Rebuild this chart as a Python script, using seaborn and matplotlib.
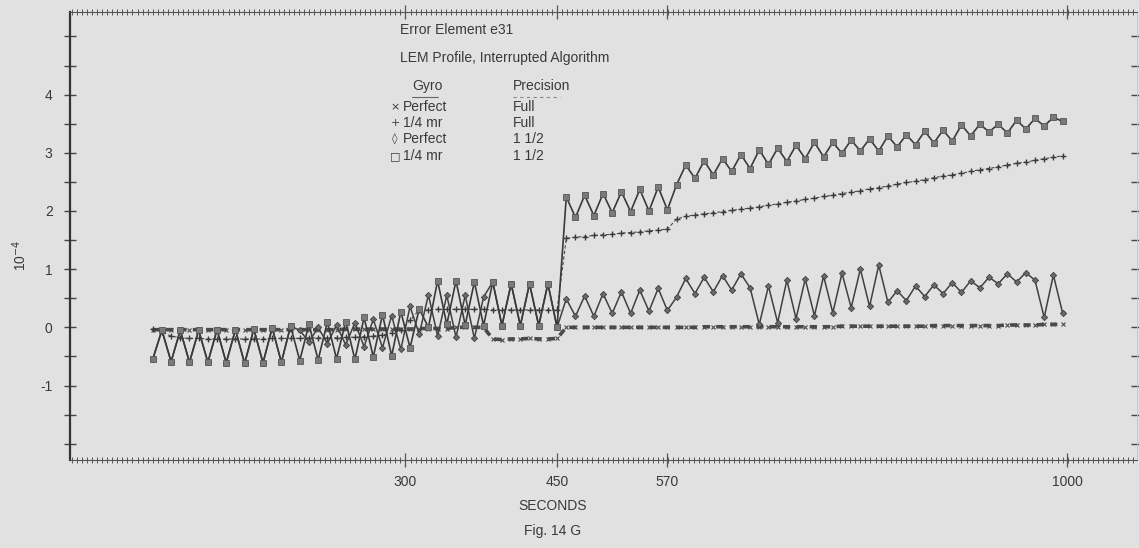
import matplotlib
matplotlib.use("Agg")
import matplotlib.pyplot as plt
from matplotlib import font_manager
import seaborn as sns
from matplotlib.ticker import FixedLocator, MultipleLocator

# ---------------- data ----------------
# x = sample number along the time axis (samples are equally spaced on the plot)
sample = list(range(100))

x_tick_pos = [27.5, 44, 56, 99.5]
x_tick_labels = ["300", "450", "570", "1000"]
y_tick_pos = [-1, 0, 1, 2, 3, 4]
y_tick_labels = ["-1", "0", "1", "2", "3", "4"]

# x  Perfect gyro, Full precision
perfect_full = [
    -0.04, -0.04, -0.04, -0.04, -0.04, -0.04, -0.04, -0.04, -0.04, -0.04,
    -0.04, -0.04, -0.04, -0.04, -0.04, -0.04, -0.04, -0.04, -0.04, -0.04,
    -0.04, -0.03, -0.03, -0.03, -0.03, -0.03, -0.03, -0.03, -0.03, -0.02,
    -0.02, -0.02, -0.02, 0.00, 0.00, 0.00, 0.00, -0.20, -0.21, -0.20,
    -0.20, -0.19, -0.20, -0.20, -0.19, 0.00, 0.00, 0.00, 0.00, 0.00,
    0.00, 0.00, 0.00, 0.00, 0.00, 0.00, 0.00, 0.00, 0.00, 0.00,
    0.01, 0.01, 0.01, 0.01, 0.01, 0.01, 0.01, 0.01, 0.01, 0.01,
    0.01, 0.01, 0.01, 0.01, 0.01, 0.02, 0.02, 0.02, 0.02, 0.02,
    0.02, 0.02, 0.02, 0.02, 0.02, 0.03, 0.03, 0.03, 0.03, 0.03,
    0.03, 0.03, 0.03, 0.04, 0.04, 0.04, 0.04, 0.05, 0.05, 0.05,
]

# +  1/4 mr gyro, Full precision
quarter_full = [
    -0.02, -0.08, -0.15, -0.18, -0.19, -0.19, -0.20, -0.20, -0.20, -0.20,
    -0.20, -0.20, -0.20, -0.19, -0.19, -0.19, -0.19, -0.18, -0.18, -0.18,
    -0.18, -0.17, -0.17, -0.16, -0.15, -0.13, -0.10, -0.05, 0.12, 0.30,
    0.30, 0.31, 0.31, 0.31, 0.31, 0.31, 0.31, 0.30, 0.30, 0.30,
    0.30, 0.30, 0.30, 0.30, 0.30, 1.53, 1.55, 1.56, 1.58, 1.59,
    1.60, 1.62, 1.63, 1.64, 1.66, 1.67, 1.69, 1.86, 1.91, 1.93,
    1.95, 1.97, 1.99, 2.01, 2.03, 2.05, 2.07, 2.10, 2.12, 2.15,
    2.17, 2.20, 2.22, 2.25, 2.27, 2.30, 2.32, 2.35, 2.38, 2.40,
    2.43, 2.46, 2.49, 2.51, 2.54, 2.57, 2.60, 2.62, 2.65, 2.68,
    2.71, 2.73, 2.76, 2.79, 2.82, 2.84, 2.87, 2.90, 2.92, 2.95,
]

# diamond  Perfect gyro, 1 1/2 precision
perfect_half = [
    -0.55, -0.05, -0.59, -0.05, -0.60, -0.05, -0.60, -0.04, -0.61, -0.04,
    -0.62, -0.03, -0.61, -0.01, -0.60, 0.02, -0.05, -0.25, 0.00, -0.28,
    0.04, -0.30, 0.08, -0.33, 0.14, -0.35, 0.20, -0.38, 0.36, -0.12,
    0.56, -0.15, 0.55, -0.17, 0.55, -0.19, 0.52, 0.78, 0.03, 0.75,
    0.03, 0.75, 0.03, 0.75, 0.00, 0.49, 0.19, 0.54, 0.19, 0.58,
    0.24, 0.61, 0.24, 0.64, 0.28, 0.67, 0.29, 0.52, 0.84, 0.58,
    0.86, 0.61, 0.89, 0.64, 0.92, 0.68, 0.05, 0.71, 0.08, 0.81,
    0.15, 0.83, 0.20, 0.88, 0.25, 0.93, 0.34, 1.00, 0.36, 1.07,
    0.43, 0.63, 0.46, 0.71, 0.53, 0.73, 0.58, 0.77, 0.60, 0.80,
    0.68, 0.86, 0.75, 0.92, 0.78, 0.94, 0.81, 0.17, 0.90, 0.25,
]

# square  1/4 mr gyro, 1 1/2 precision
quarter_half = [
    -0.55, -0.05, -0.59, -0.05, -0.60, -0.05, -0.60, -0.04, -0.61, -0.04,
    -0.62, -0.03, -0.61, -0.01, -0.60, 0.02, -0.57, 0.05, -0.56, 0.09,
    -0.54, 0.10, -0.55, 0.17, -0.51, 0.22, -0.49, 0.27, -0.35, 0.32,
    0.00, 0.80, 0.05, 0.80, 0.04, 0.78, 0.03, 0.78, 0.03, 0.75,
    0.03, 0.75, 0.03, 0.75, 0.00, 2.24, 1.89, 2.27, 1.92, 2.30,
    1.97, 2.33, 1.99, 2.37, 2.00, 2.41, 2.02, 2.45, 2.79, 2.56,
    2.86, 2.62, 2.90, 2.68, 2.97, 2.73, 3.05, 2.80, 3.08, 2.85,
    3.13, 2.90, 3.18, 2.93, 3.18, 2.99, 3.22, 3.03, 3.24, 3.03,
    3.29, 3.10, 3.31, 3.14, 3.37, 3.17, 3.39, 3.20, 3.48, 3.29,
    3.49, 3.36, 3.49, 3.34, 3.56, 3.41, 3.59, 3.46, 3.61, 3.54,
]

gyro_labels = ["Perfect", "1/4 mr", "Perfect", "1/4 mr"]
precision_labels = ["Full", "Full", "1 1/2", "1 1/2"]
legend_symbols = ["\u00d7", "+", "\u25ca", "\u25a1"]

# ---------------- style ----------------
sns.set_theme(style="white")


def pick_family():
    for fam in ["Liberation Sans Narrow", "DejaVu Sans Condensed", "Liberation Sans"]:
        try:
            font_manager.findfont(font_manager.FontProperties(family=fam),
                                  fallback_to_default=False)
            return fam
        except Exception:
            continue
    return "DejaVu Sans"


main_family = pick_family()
plt.rcParams["font.family"] = [main_family, "DejaVu Sans"]
paper = "#e1e1e1"
ink = "#3a3a3a"
plt.rcParams["text.color"] = ink

W, H = 1139, 548
fig = plt.figure(figsize=(W / 100, H / 100), dpi=100, facecolor=paper)
ax_left, ax_right, ax_top, ax_bottom = 70, 1137, 12, 460
ax = fig.add_axes([ax_left / W, 1 - ax_bottom / H,
                   (ax_right - ax_left) / W, (ax_bottom - ax_top) / H])
ax.set_facecolor(paper)

# ---------------- series ----------------
sns.lineplot(x=sample, y=perfect_full, ax=ax, estimator=None, sort=False,
             color="#4a4a4a", linewidth=2.6, linestyle=(0, (2.0, 1.7)),
             marker="x", markersize=3, markeredgewidth=0.8,
             markeredgecolor="#4a4a4a", zorder=3)
sns.lineplot(x=sample, y=quarter_full, ax=ax, estimator=None, sort=False,
             color="#4a4a4a", linewidth=0.8, linestyle=(0, (3, 2)),
             marker="+", markersize=5, markeredgewidth=1.0,
             markeredgecolor="#3a3a3a", zorder=4)
sns.lineplot(x=sample, y=perfect_half, ax=ax, estimator=None, sort=False,
             color="#404040", linewidth=1.1,
             marker="D", markersize=3.2, markerfacecolor="#6a6a6a",
             markeredgecolor="#404040", markeredgewidth=0.6, zorder=5)
sns.lineplot(x=sample, y=quarter_half, ax=ax, estimator=None, sort=False,
             color="#3a3a3a", linewidth=1.2,
             marker="s", markersize=4.2, markerfacecolor="#7a7a7a",
             markeredgecolor="#555555", markeredgewidth=0.6, zorder=6)

# ---------------- axes ----------------
ax.set_xlim(-9.0, 107.1)
ax.set_ylim(-2.28, 5.42)
ax.set_xlabel("")
ax.set_ylabel("")

ax.xaxis.set_major_locator(FixedLocator(x_tick_pos))
ax.set_xticklabels(x_tick_labels)
ax.xaxis.set_minor_locator(MultipleLocator(0.55))
ax.yaxis.set_major_locator(FixedLocator(y_tick_pos))
ax.set_yticklabels(y_tick_labels)
ax.yaxis.set_minor_locator(MultipleLocator(0.5))

ax.tick_params(axis="x", which="both", direction="inout", top=True, bottom=True,
               color="#555555", labelsize=10, labelcolor=ink, pad=6)
ax.tick_params(axis="x", which="major", length=10, width=0.9)
ax.tick_params(axis="x", which="minor", length=5, width=0.7)
ax.tick_params(axis="y", which="both", direction="inout", left=True, right=True,
               color="#444444", labelsize=10, labelcolor=ink, pad=8)
ax.tick_params(axis="y", which="major", length=9, width=1.0)
ax.tick_params(axis="y", which="minor", length=8, width=1.0)

for side in ["top", "bottom"]:
    ax.spines[side].set_color("#555555")
    ax.spines[side].set_linewidth(0.8)
ax.spines["left"].set_color("#333333")
ax.spines["left"].set_linewidth(1.6)
ax.spines["right"].set_color("#c4c4c4")
ax.spines["right"].set_linewidth(0.6)

# ---------------- annotation block ----------------
fs = 10


def fx(px):
    return px / W


def fy(py):
    return 1 - py / H


fig.text(fx(400), fy(30), "Error Element e31", fontsize=fs, va="center", ha="left")
fig.text(fx(400), fy(58), "LEM Profile, Interrupted Algorithm", fontsize=fs,
         va="center", ha="left")
fig.text(fx(412), fy(86), "Gyro", fontsize=fs, va="center", ha="left")
fig.text(fx(513), fy(86), "Precision", fontsize=fs, va="center", ha="left")
fig.add_artist(plt.Line2D([fx(412), fx(438)], [fy(97), fy(97)], color="#666666", lw=0.8))
fig.add_artist(plt.Line2D([fx(513), fx(560)], [fy(97), fy(97)], color="#888888", lw=0.8,
                          linestyle=(0, (3, 3))))
row_y = [107, 123, 139, 156]
for sym, g, p, yy in zip(legend_symbols, gyro_labels, precision_labels, row_y):
    fig.text(fx(395), fy(yy), sym, fontsize=8, va="center", ha="center",
             family=["DejaVu Sans"])
    fig.text(fx(403), fy(yy), g, fontsize=fs, va="center", ha="left")
    fig.text(fx(513), fy(yy), p, fontsize=fs, va="center", ha="left")

fig.text(fx(20), fy(255), "10$^{-4}$", fontsize=10, rotation=90, va="center", ha="center")
fig.text(fx(553), fy(506), "SECONDS", fontsize=10, va="center", ha="center")
fig.text(fx(553), fy(531), "Fig. 14 G", fontsize=10, va="center", ha="center")

fig.savefig("out.png", dpi=100, facecolor=paper)
